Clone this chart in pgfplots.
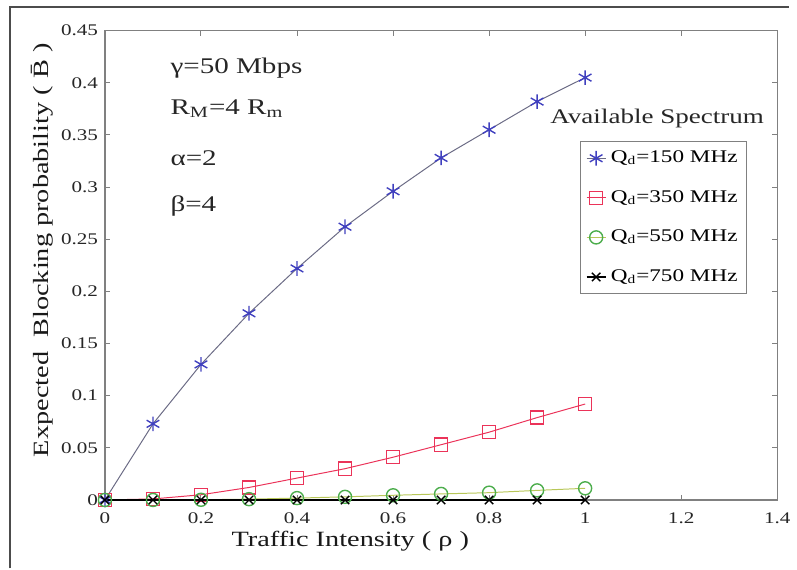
\documentclass[border=0pt]{standalone}
\usepackage{fontspec}
\setmainfont{Liberation Serif}[FakeStretch=1.3]
\usepackage{pgfplots}
\pgfplotsset{compat=1.18}
\definecolor{cblue}{rgb}{0.25,0.25,0.75}
\definecolor{cbline}{rgb}{0.42,0.42,0.52}
\definecolor{cred}{rgb}{0.92,0.2,0.35}
\definecolor{cgreen}{rgb}{0.3,0.68,0.3}
\definecolor{cgline}{rgb}{0.72,0.78,0.35}
\definecolor{axgray}{rgb}{0.5,0.5,0.5}
\begin{document}
\begin{tikzpicture}
\begin{axis}[
  name=ax,
  scale only axis, width=339.5pt, height=237pt,
  xmin=0, xmax=1.4, ymin=0, ymax=0.45,
  xtick={0,0.2,0.4,0.6,0.8,1,1.2,1.4},
  xticklabels={0,0.2,0.4,0.6,0.8,1,1.2,1.4},
  ytick={0,0.05,0.1,0.15,0.2,0.25,0.3,0.35,0.4,0.45},
  yticklabels={0,0.05,0.1,0.15,0.2,0.25,0.3,0.35,0.4,0.45},
  tick align=inside, tick pos=both, major tick length=2.5pt,
  axis line style={axgray, line width=0.6pt},
  tick style={axgray, line width=0.5pt},
  ticklabel style={font=\fontsize{8.2}{9}\selectfont, text=black!85},
  xticklabel style={yshift=-3pt},
  xlabel={Traffic Intensity ( ρ )},
  ylabel={Expected\ \ Blocking probability ( \={B} )},
  label style={font=\fontsize{11}{13}\selectfont, text=black!90},
  xlabel style={at={(axis description cs:0.365,0)}, anchor=base, yshift=-23.5pt},
  ylabel style={at={(axis description cs:-0.0928,0.532)}, anchor=center},
  clip=false,
  legend style={at={(rel axis cs:0.955,0.764)}, anchor=north east,
    draw=axgray, line width=0.5pt, font=\fontsize{9}{10}\selectfont,
    row sep=8.5pt, inner sep=2.5pt, cells={anchor=west}},
  legend image code/.code={%
    \draw[mark repeat=2,mark phase=2] plot coordinates {(0cm,0cm) (0.17cm,0cm) (0.34cm,0cm)};},
]
\addplot[color=cbline, line width=0.5pt, mark=asterisk, mark size=3.7pt,
  mark options={cblue, solid, line width=0.7pt}]
  coordinates {(0,0) (0.1,0.073) (0.2,0.13) (0.3,0.179) (0.4,0.222) (0.5,0.262)
  (0.6,0.296) (0.7,0.328) (0.8,0.355) (0.9,0.382) (1.0,0.405)};
\addlegendentry{Q\textsubscript{d}=150 MHz}
\addplot[color=cred, line width=0.5pt, mark=square, mark size=3.3pt,
  mark options={cred, solid, line width=0.7pt}]
  coordinates {(0,0) (0.1,0.001) (0.2,0.005) (0.3,0.012) (0.4,0.021) (0.5,0.030)
  (0.6,0.041) (0.7,0.053) (0.8,0.065) (0.9,0.079) (1.0,0.092)};
\addlegendentry{Q\textsubscript{d}=350 MHz}
\addplot[color=cgline, line width=0.5pt, mark=o, mark size=3.3pt,
  mark options={cgreen, solid, line width=0.7pt}]
  coordinates {(0,0) (0.1,0) (0.2,0.0002) (0.3,0.0008) (0.4,0.0018) (0.5,0.003)
  (0.6,0.0045) (0.7,0.0058) (0.8,0.007) (0.9,0.0092) (1.0,0.0112)};
\addlegendentry{Q\textsubscript{d}=550 MHz}
\addplot[color=black, line width=1.2pt, mark=x, mark size=3pt,
  mark options={black, solid, line width=0.7pt}]
  coordinates {(0,0) (0.1,0) (0.2,0) (0.3,0) (0.4,0) (0.5,0)
  (0.6,0) (0.7,0) (0.8,0) (0.9,0) (1.0,0)};
\addlegendentry{Q\textsubscript{d}=750 MHz}
\node[anchor=base west, font=\fontsize{11.3}{13}\selectfont, text=black!85] at (axis cs:0.122,0.409) {γ=50 Mbps};
\node[anchor=base west, font=\fontsize{11.3}{13}\selectfont, text=black!85] at (axis cs:0.122,0.370) {R\textsubscript{M}=4 R\textsubscript{m}};
\node[anchor=base west, font=\fontsize{11.3}{13}\selectfont, text=black!85] at (axis cs:0.122,0.321) {α=2};
\node[anchor=base west, font=\fontsize{11.3}{13}\selectfont, text=black!85] at (axis cs:0.122,0.277) {β=4};
\node[anchor=center, font=\fontsize{10.5}{12}\selectfont, text=black!85] at (axis cs:1.15,0.3655) {Available Spectrum};
\end{axis}
\draw[black!70, line width=0.8pt] ([shift={(-48pt,-34.5pt)}]ax.south west) -- ([shift={(-48pt,12pt)}]ax.north west) -- ([shift={(6pt,12pt)}]ax.north east);
\path ([shift={(-53pt,-34.5pt)}]ax.south west) rectangle ([shift={(6pt,15.5pt)}]ax.north east);
\end{tikzpicture}
\end{document}
